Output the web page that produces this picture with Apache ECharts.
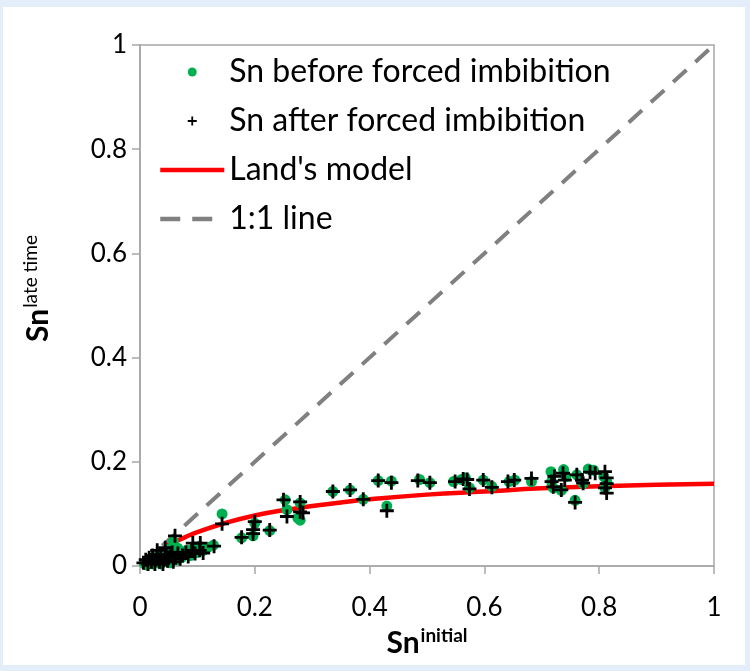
<!DOCTYPE html>
<html>
<head>
<meta charset="utf-8">
<script src="https://cdn.jsdelivr.net/npm/echarts@6/dist/echarts.min.js"></script>
<style>
    html, body { margin: 0; padding: 0; background: #e4eefa; }
    #sn-chart {
        position: absolute;
        left: 3px;
        top: 7px;
        width: 742px;
        height: 658px;
        background: #ffffff;
    }
</style>
</head>
<body>
<div id="sn-chart"></div>
<script>
    // Sn before forced imbibition (green dots): [Sn initial, Sn late time]
    var snBefore = [
        [0.008, 0.004], [0.012, 0.002], [0.012, 0.010], [0.016, 0.006], [0.018, 0.014],
        [0.022, 0.004], [0.024, 0.010], [0.026, 0.018], [0.030, 0.008], [0.032, 0.014],
        [0.036, 0.004], [0.038, 0.012], [0.040, 0.020], [0.044, 0.010], [0.046, 0.016],
        [0.050, 0.024], [0.052, 0.006], [0.056, 0.014], [0.060, 0.020], [0.064, 0.012],
        [0.068, 0.026], [0.072, 0.016], [0.078, 0.022], [0.082, 0.030], [0.088, 0.020],
        [0.092, 0.032], [0.100, 0.026], [0.104, 0.038], [0.110, 0.030], [0.118, 0.036],
        [0.128, 0.040], [0.058, 0.047], [0.050, 0.032], [0.066, 0.034],
        [0.143, 0.100], [0.177, 0.054], [0.197, 0.058], [0.200, 0.082], [0.226, 0.068],
        [0.253, 0.127], [0.256, 0.108], [0.279, 0.121], [0.279, 0.088], [0.275, 0.092],
        [0.336, 0.143], [0.366, 0.146], [0.389, 0.128], [0.415, 0.164], [0.438, 0.163],
        [0.430, 0.115], [0.487, 0.166], [0.505, 0.160], [0.546, 0.162], [0.560, 0.166],
        [0.567, 0.169], [0.574, 0.150], [0.598, 0.165], [0.613, 0.153], [0.643, 0.162],
        [0.653, 0.165], [0.682, 0.162], [0.716, 0.181], [0.717, 0.162], [0.720, 0.150],
        [0.734, 0.145], [0.738, 0.185], [0.742, 0.172], [0.758, 0.126], [0.761, 0.175],
        [0.772, 0.158], [0.781, 0.186], [0.790, 0.184], [0.808, 0.172], [0.810, 0.150],
        [0.813, 0.162]
    ];

    // Sn after forced imbibition (black crosses)
    var snAfter = [
        [0.006, 0.006], [0.010, 0.012], [0.014, 0.004], [0.016, 0.016], [0.020, 0.008],
        [0.022, 0.020], [0.026, 0.004], [0.028, 0.012], [0.030, 0.022], [0.034, 0.008],
        [0.036, 0.016], [0.040, 0.004], [0.042, 0.012], [0.046, 0.022], [0.048, 0.010],
        [0.052, 0.018], [0.056, 0.026], [0.058, 0.008], [0.062, 0.016], [0.066, 0.024],
        [0.070, 0.014], [0.074, 0.020], [0.080, 0.026], [0.084, 0.018], [0.090, 0.030],
        [0.096, 0.024], [0.104, 0.030], [0.110, 0.025], [0.092, 0.044], [0.105, 0.044],
        [0.129, 0.038], [0.044, 0.035], [0.061, 0.058], [0.030, 0.030],
        [0.143, 0.081], [0.177, 0.055], [0.197, 0.062], [0.197, 0.070], [0.200, 0.085],
        [0.226, 0.069], [0.250, 0.127], [0.256, 0.095], [0.279, 0.104], [0.284, 0.102],
        [0.279, 0.123], [0.336, 0.143], [0.366, 0.146], [0.389, 0.128], [0.415, 0.164],
        [0.438, 0.160], [0.430, 0.106], [0.484, 0.164], [0.505, 0.160], [0.549, 0.162],
        [0.563, 0.167], [0.570, 0.166], [0.574, 0.148], [0.598, 0.165], [0.613, 0.151],
        [0.641, 0.162], [0.652, 0.165], [0.682, 0.168], [0.717, 0.162], [0.720, 0.152],
        [0.722, 0.172], [0.734, 0.146], [0.737, 0.178], [0.740, 0.165], [0.758, 0.122],
        [0.761, 0.175], [0.772, 0.159], [0.770, 0.165], [0.784, 0.180], [0.793, 0.178],
        [0.810, 0.181], [0.813, 0.169], [0.813, 0.158], [0.810, 0.150], [0.813, 0.140]
    ];

    // Land's model curve
    var landX = [0.045, 0.06, 0.08, 0.10, 0.15, 0.20, 0.25, 0.30, 0.35, 0.40, 0.50, 0.60, 0.70, 0.80, 0.90, 1.00];
    var landY = [0.038, 0.046, 0.056, 0.065, 0.083, 0.097, 0.107, 0.115, 0.122, 0.128, 0.137, 0.143, 0.149, 0.153, 0.156, 0.158];

    // 1:1 line end points
    var oneToOne = [[0, 0], [1, 1]];

    var axisTicks = [0, 0.2, 0.4, 0.6, 0.8, 1];

    var fontName = "Lato";
    var plusPath = "path://M4,0 H6 V4 H10 V6 H6 V10 H4 V6 H0 V4 H4 Z";

    var landData = [];
    for (var i in landX) {
        landData.push([landX[i], landY[i]]);
    }

    function tickLabel(v) {
        return axisTicks.indexOf(Math.round(v * 10) / 10) >= 0 ? String(Math.round(v * 10) / 10) : "";
    }

    var chart = echarts.init(document.getElementById("sn-chart"));
    chart.setOption({
        backgroundColor: "#ffffff",
        animation: false,
        textStyle: { fontFamily: fontName },
        grid: {
            left: 137,
            right: 31,
            top: 38,
            bottom: 99,
            show: true,
            borderColor: "#a6a6a6",
            borderWidth: 1.5
        },
        legend: {
            orient: "vertical",
            left: 150,
            top: 43,
            itemWidth: 64,
            itemHeight: 9,
            itemGap: 15,
            textStyle: { fontFamily: fontName, fontSize: 32, color: "#000", lineHeight: 34 },
            data: [
                { name: "Sn before forced imbibition" },
                { name: "Sn after forced imbibition" },
                { name: "Land's model", itemStyle: { opacity: 0 }, lineStyle: { color: "#ff0000", width: 4.5 } },
                { name: "1:1 line", itemStyle: { opacity: 0 }, lineStyle: { color: "#808080", width: 4.5, type: [20, 12] } }
            ]
        },
        xAxis: {
            type: "value",
            min: 0,
            max: 1,
            interval: 0.2,
            splitLine: { show: false },
            axisLine: { lineStyle: { color: "#a6a6a6", width: 1.5 } },
            axisTick: { show: true, length: 8, lineStyle: { color: "#a6a6a6", width: 1.5 } },
            axisLabel: { fontSize: 26, color: "#000", margin: 29, formatter: tickLabel },
            name: "{b|Sn}{s|initial}",
            nameLocation: "middle",
            nameGap: 54,
            nameTextStyle: {
                rich: {
                    b: { fontFamily: fontName, fontSize: 30, fontWeight: "bold", color: "#000", lineHeight: 36 },
                    s: { fontFamily: fontName, fontSize: 19, fontWeight: "bold", color: "#000", padding: [0, 0, 15, 1] }
                }
            }
        },
        yAxis: {
            type: "value",
            min: 0,
            max: 1,
            interval: 0.2,
            splitLine: { show: false },
            axisLine: { lineStyle: { color: "#a6a6a6", width: 1.5 } },
            axisTick: { show: true, length: 8, lineStyle: { color: "#a6a6a6", width: 1.5 } },
            axisLabel: { fontSize: 26, color: "#000", margin: 13, formatter: tickLabel },
            name: "{b|Sn}{s|late time}",
            nameLocation: "middle",
            nameGap: 84,
            nameTextStyle: {
                padding: [0, 0, 0, 34],
                rich: {
                    b: { fontFamily: fontName, fontSize: 30, fontWeight: "bold", color: "#000", lineHeight: 36 },
                    s: { fontFamily: fontName, fontSize: 19, color: "#000", padding: [0, 0, 15, 1] }
                }
            }
        },
        series: [
            {
                name: "Sn before forced imbibition",
                type: "scatter",
                z: 3,
                symbol: "circle",
                symbolSize: 11,
                itemStyle: { color: "#00b050", opacity: 1 },
                data: snBefore
            },
            {
                name: "Sn after forced imbibition",
                type: "scatter",
                z: 4,
                symbol: plusPath,
                symbolSize: 14,
                itemStyle: { color: "#000000", opacity: 1 },
                data: snAfter
            },
            {
                name: "Land's model",
                type: "line",
                z: 2,
                smooth: true,
                showSymbol: false,
                symbol: "none",
                lineStyle: { color: "#ff0000", width: 4.5 },
                itemStyle: { color: "#ff0000" },
                data: landData
            },
            {
                name: "1:1 line",
                type: "line",
                z: 1,
                showSymbol: false,
                symbol: "none",
                lineStyle: { color: "#808080", width: 4, type: [18, 12] },
                itemStyle: { color: "#808080" },
                data: oneToOne
            }
        ]
    });
</script>
</body>
</html>
